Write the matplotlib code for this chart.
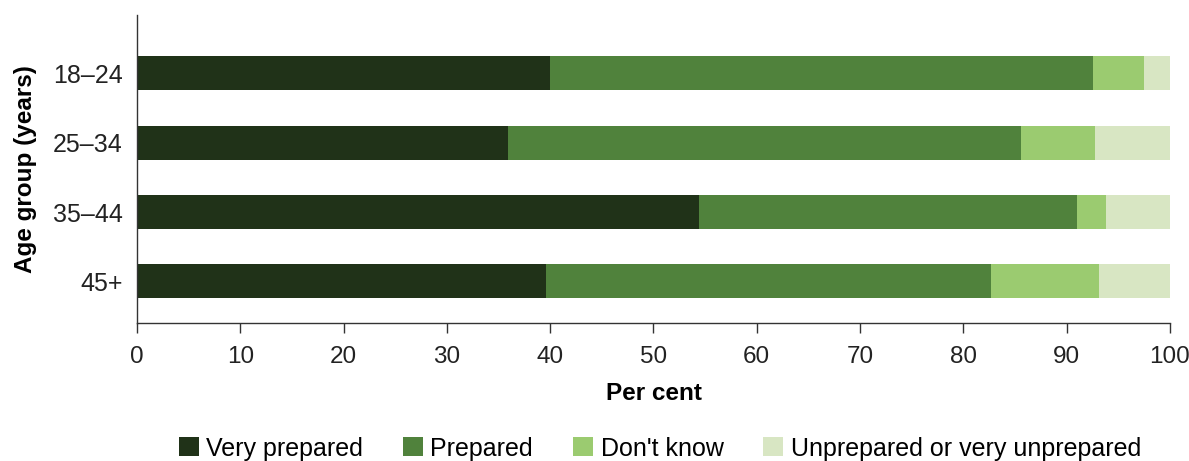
import numpy as np
import matplotlib.pyplot as plt

plt.rcParams['font.family'] = ['Liberation Sans', 'DejaVu Sans']

# data (per cent)
groups = ["18–24", "25–34", "35–44", "45+"]
very_prepared = [40.0, 35.9, 54.4, 39.6]
prepared = [52.5, 49.7, 36.6, 43.1]
dont_know = [5.0, 7.1, 2.8, 10.4]
unprepared = [2.5, 7.3, 6.2, 6.9]

series = ["Very prepared", "Prepared", "Don't know", "Unprepared or very unprepared"]
colors = ["#203218", "#50823c", "#9bcb70", "#d8e6c3"]

fig = plt.figure(figsize=(11.89, 4.61), dpi=100)
ax = fig.add_axes([0.1152, 0.2993, 0.8688, 0.6682])

y = np.arange(len(groups))
left = np.zeros(len(groups))
for vals, name, c in zip([very_prepared, prepared, dont_know, unprepared], series, colors):
    ax.barh(y, vals, left=left, height=0.49, color=c, label=name)
    left += np.array(vals)

ax.set_xlim(0, 100)
ax.set_ylim(3.6, -0.84)
ax.set_xticks(np.arange(0, 101, 10))
ax.set_yticks(y)
ax.set_yticklabels(groups)

for s in ["top", "right"]:
    ax.spines[s].set_visible(False)
for s in ["left", "bottom"]:
    ax.spines[s].set_color("#333333")
    ax.spines[s].set_linewidth(1.0)

ax.tick_params(axis="x", length=7.5, width=1.0, color="#333333", pad=9,
               labelsize=17.5, labelcolor="#222222")
ax.tick_params(axis="y", length=0, pad=10.5, labelsize=18, labelcolor="#222222")

ax.set_xlabel("Per cent", fontsize=17.5, fontweight="bold", labelpad=10)
ax.set_ylabel("Age group (years)", fontsize=17.5, fontweight="bold", labelpad=11)

fig.legend(loc="center", bbox_to_anchor=(0.555, 0.027), ncol=4, frameon=False,
           fontsize=18, handlelength=0.8, handleheight=0.8, handletextpad=0.3,
           columnspacing=1.6)

fig.savefig("out.png", dpi=100)
